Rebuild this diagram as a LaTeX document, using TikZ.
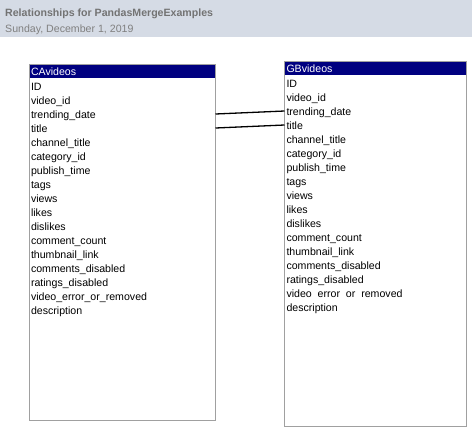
\documentclass[tikz,border=0pt]{standalone}
\usepackage{fontspec}
\setmainfont{Liberation Sans}
\newlength{\du}
\setlength{\du}{1pt}

\begin{document}
\fontsize{10.6}{12}\selectfont
\begin{tikzpicture}
\pgftransformxscale{1.000000}
\pgftransformyscale{-1.000000}
\useasboundingbox (0.000000\du,0.000000\du) rectangle (472.000000\du,445.000000\du);
\definecolor{dialinecolor}{rgb}{1.000000, 1.000000, 1.000000}
\pgfsetfillcolor{dialinecolor}
\fill (0.000000\du,0.000000\du)--(0.000000\du,445.000000\du)--(472.000000\du,445.000000\du)--(472.000000\du,0.000000\du)--cycle;
% report header
\definecolor{dialinecolor}{rgb}{0.835294, 0.858824, 0.898039}
\pgfsetfillcolor{dialinecolor}
\fill (0.000000\du,0.000000\du)--(0.000000\du,37.000000\du)--(472.000000\du,37.000000\du)--(472.000000\du,0.000000\du)--cycle;
\definecolor{dialinecolor}{rgb}{0.450980, 0.450980, 0.450980}
\node[anchor=base west,inner sep=0pt,text=dialinecolor] (report_title) at (5.000000\du,16.000000\du){\bfseries Relationships for PandasMergeExamples};
\definecolor{dialinecolor}{rgb}{0.501961, 0.501961, 0.501961}
\node[anchor=base west,inner sep=0pt,text=dialinecolor] (report_date) at (5.000000\du,32.000000\du){Sunday, December 1, 2019};
% table CAvideos
\pgfsetlinewidth{1.000000\du}
\pgfsetdash{}{0pt}
\pgfsetmiterjoin
\definecolor{dialinecolor}{rgb}{1.000000, 1.000000, 1.000000}
\pgfsetfillcolor{dialinecolor}
\fill (29.000000\du,64.000000\du)--(29.000000\du,420.000000\du)--(215.500000\du,420.000000\du)--(215.500000\du,64.000000\du)--cycle;
\definecolor{dialinecolor}{rgb}{0.000000, 0.000000, 0.501961}
\pgfsetfillcolor{dialinecolor}
\fill (29.000000\du,64.000000\du)--(29.000000\du,77.500000\du)--(215.500000\du,77.500000\du)--(215.500000\du,64.000000\du)--cycle;
\definecolor{dialinecolor}{rgb}{0.627451, 0.627451, 0.627451}
\pgfsetstrokecolor{dialinecolor}
\draw (29.000000\du,64.000000\du)--(29.000000\du,420.000000\du)--(215.500000\du,420.000000\du)--(215.500000\du,64.000000\du)--cycle;
\node[anchor=base west,inner sep=0pt,text=white] (ca_name) at (30.500000\du,75.000000\du){CAvideos};
\node[anchor=base west,inner sep=0pt] (ca_id) at (30.500000\du,90.000000\du){ID};
\node[anchor=base west,inner sep=0pt] (ca_video_id) at (30.500000\du,104.000000\du){video\_id};
\node[anchor=base west,inner sep=0pt] (ca_trending_date) at (30.500000\du,118.000000\du){trending\_date};
\node[anchor=base west,inner sep=0pt] (ca_title) at (30.500000\du,132.000000\du){title};
\node[anchor=base west,inner sep=0pt] (ca_channel_title) at (30.500000\du,146.000000\du){channel\_title};
\node[anchor=base west,inner sep=0pt] (ca_category_id) at (30.500000\du,160.000000\du){category\_id};
\node[anchor=base west,inner sep=0pt] (ca_publish_time) at (30.500000\du,174.000000\du){publish\_time};
\node[anchor=base west,inner sep=0pt] (ca_tags) at (30.500000\du,188.000000\du){tags};
\node[anchor=base west,inner sep=0pt] (ca_views) at (30.500000\du,202.000000\du){views};
\node[anchor=base west,inner sep=0pt] (ca_likes) at (30.500000\du,216.000000\du){likes};
\node[anchor=base west,inner sep=0pt] (ca_dislikes) at (30.500000\du,230.000000\du){dislikes};
\node[anchor=base west,inner sep=0pt] (ca_comment_count) at (30.500000\du,244.000000\du){comment\_count};
\node[anchor=base west,inner sep=0pt] (ca_thumbnail_link) at (30.500000\du,258.000000\du){thumbnail\_link};
\node[anchor=base west,inner sep=0pt] (ca_comments_disabled) at (30.500000\du,272.000000\du){comments\_disabled};
\node[anchor=base west,inner sep=0pt] (ca_ratings_disabled) at (30.500000\du,286.000000\du){ratings\_disabled};
\node[anchor=base west,inner sep=0pt] (ca_video_error_or_removed) at (30.500000\du,300.000000\du){video\_error\_or\_removed};
\node[anchor=base west,inner sep=0pt] (ca_description) at (30.500000\du,314.000000\du){description};
\coordinate (ca_trending_date_pin) at (215.500000\du,114.000000\du);
\coordinate (ca_title_pin) at (215.500000\du,128.000000\du);
% table GBvideos
\definecolor{dialinecolor}{rgb}{1.000000, 1.000000, 1.000000}
\pgfsetfillcolor{dialinecolor}
\fill (284.500000\du,61.000000\du)--(284.500000\du,426.000000\du)--(466.500000\du,426.000000\du)--(466.500000\du,61.000000\du)--cycle;
\definecolor{dialinecolor}{rgb}{0.000000, 0.000000, 0.501961}
\pgfsetfillcolor{dialinecolor}
\fill (284.500000\du,61.000000\du)--(284.500000\du,74.500000\du)--(466.500000\du,74.500000\du)--(466.500000\du,61.000000\du)--cycle;
\definecolor{dialinecolor}{rgb}{0.627451, 0.627451, 0.627451}
\pgfsetstrokecolor{dialinecolor}
\draw (284.500000\du,61.000000\du)--(284.500000\du,426.000000\du)--(466.500000\du,426.000000\du)--(466.500000\du,61.000000\du)--cycle;
\node[anchor=base west,inner sep=0pt,text=white] (gb_name) at (286.000000\du,72.000000\du){GBvideos};
\node[anchor=base west,inner sep=0pt] (gb_id) at (286.000000\du,87.000000\du){ID};
\node[anchor=base west,inner sep=0pt] (gb_video_id) at (286.000000\du,101.000000\du){video\_id};
\node[anchor=base west,inner sep=0pt] (gb_trending_date) at (286.000000\du,115.000000\du){trending\_date};
\node[anchor=base west,inner sep=0pt] (gb_title) at (286.000000\du,129.000000\du){title};
\node[anchor=base west,inner sep=0pt] (gb_channel_title) at (286.000000\du,143.000000\du){channel\_title};
\node[anchor=base west,inner sep=0pt] (gb_category_id) at (286.000000\du,157.000000\du){category\_id};
\node[anchor=base west,inner sep=0pt] (gb_publish_time) at (286.000000\du,171.000000\du){publish\_time};
\node[anchor=base west,inner sep=0pt] (gb_tags) at (286.000000\du,185.000000\du){tags};
\node[anchor=base west,inner sep=0pt] (gb_views) at (286.000000\du,199.000000\du){views};
\node[anchor=base west,inner sep=0pt] (gb_likes) at (286.000000\du,213.000000\du){likes};
\node[anchor=base west,inner sep=0pt] (gb_dislikes) at (286.000000\du,227.000000\du){dislikes};
\node[anchor=base west,inner sep=0pt] (gb_comment_count) at (286.000000\du,241.000000\du){comment\_count};
\node[anchor=base west,inner sep=0pt] (gb_thumbnail_link) at (286.000000\du,255.000000\du){thumbnail\_link};
\node[anchor=base west,inner sep=0pt] (gb_comments_disabled) at (286.000000\du,269.000000\du){comments\_disabled};
\node[anchor=base west,inner sep=0pt] (gb_ratings_disabled) at (286.000000\du,283.000000\du){ratings\_disabled};
\node[anchor=base west,inner sep=0pt] (gb_video_error_or_removed) at (286.000000\du,297.000000\du){\spaceskip=0.556em video error or removed};
\node[anchor=base west,inner sep=0pt] (gb_description) at (286.000000\du,311.000000\du){description};
\coordinate (gb_trending_date_pin) at (284.500000\du,111.000000\du);
\coordinate (gb_title_pin) at (284.500000\du,125.000000\du);
% relationships
\pgfsetlinewidth{1.300000\du}
\pgfsetbuttcap
\definecolor{dialinecolor}{rgb}{0.000000, 0.000000, 0.000000}
\pgfsetstrokecolor{dialinecolor}
\draw (ca_trending_date_pin)--(gb_trending_date_pin);
\draw (ca_title_pin)--(gb_title_pin);
\end{tikzpicture}
\end{document}
